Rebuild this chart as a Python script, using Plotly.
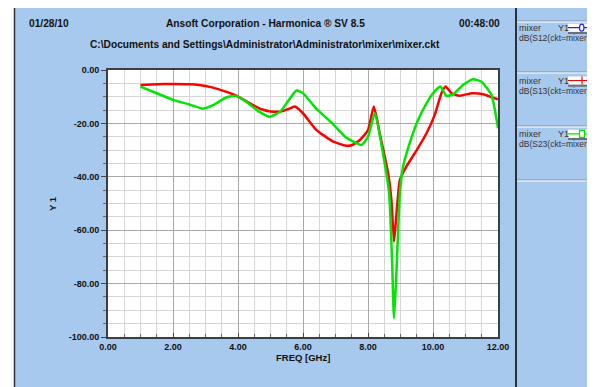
import plotly.graph_objects as go

# ---------------- data ----------------
freq_s13 = [1.0, 1.5, 2.0, 2.5, 2.8, 3.2, 3.6, 3.95, 4.35, 4.75, 5.0, 5.3, 5.55, 5.75, 6.0,
            6.4, 6.9, 7.3, 7.5, 7.75, 8.0, 8.18, 8.36, 8.62, 8.72, 8.80, 8.87, 8.98, 9.18,
            9.5, 9.8, 10.05, 10.26, 10.39, 10.57, 10.82, 11.2, 11.55, 11.8, 12.0]
db_s13 = [-5.6, -5.3, -5.2, -5.3, -5.6, -6.5, -8.0, -9.6, -12.4, -14.8, -15.5, -15.6, -14.6,
          -13.7, -16.2, -22.3, -26.6, -28.3, -28.2, -26.2, -22.5, -13.7, -23.7, -38.7, -48.7,
          -64.3, -54.9, -41.2, -36.2, -30.0, -23.7, -16.9, -8.7, -6.2, -8.7, -9.6, -8.7,
          -9.1, -10.2, -11.0]

freq_s23 = [1.0, 1.5, 2.0, 2.5, 2.92, 3.25, 3.65, 3.95, 4.25, 4.65, 4.98, 5.3, 5.55, 5.8,
            6.0, 6.4, 6.9, 7.3, 7.5, 7.8, 8.0, 8.21, 8.46, 8.65, 8.74, 8.80, 8.87, 8.98,
            9.08, 9.28, 9.54, 9.8, 10.0, 10.23, 10.41, 10.62, 10.92, 11.23, 11.49, 11.8, 12.0]
db_s23 = [-6.2, -8.7, -11.2, -12.9, -14.5, -13.1, -10.2, -9.7, -11.9, -15.6, -17.5, -15.6,
          -11.5, -7.7, -8.7, -14.4, -20.0, -25.0, -26.5, -28.1, -25.0, -16.2, -31.2, -46.2,
          -71.2, -93.0, -77.4, -46.2, -36.2, -27.5, -18.7, -12.5, -8.7, -6.2, -9.7, -9.1,
          -5.6, -3.5, -4.4, -9.4, -21.8]

x_tickvals = [0, 2, 4, 6, 8, 10, 12]
x_ticktext = ["0.00", "2.00", "4.00", "6.00", "8.00", "10.00", "12.00"]
y_tickvals = [0, -20, -40, -60, -80, -100]
y_ticktext = ["0.00", "-20.00", "-40.00", "-60.00", "-80.00", "-100.00"]

legend_names = ["dB(S12(ckt=mixer))", "dB(S13(ckt=mixer))", "dB(S23(ckt=mixer))"]
legend_colors = ["#2222ff", "#ff0000", "#00e600"]

BLUE = "#A8C9EE"
FONT = "Liberation Sans, Arial, sans-serif"

OFF = 8  # page body margin
W, H = 595, 387
# plot area in screenshot pixels
SL, SR, ST, SB = 108, 498, 70, 337
L, R, T, B = SL - OFF, SR - OFF, ST - OFF, SB - OFF


def px(x):
    return (x - OFF - L) / (R - L)


def py(y):
    return (B - (y - OFF)) / (B - T)


fig = go.Figure()
fig.add_trace(go.Scatter(x=freq_s13, y=db_s13, mode="lines",
                         line=dict(color="#ff0000", width=2.5, shape="spline", smoothing=0.5),
                         name="S13"))
fig.add_trace(go.Scatter(x=freq_s23, y=db_s23, mode="lines",
                         line=dict(color="#00e600", width=2.5, shape="spline", smoothing=0.5),
                         name="S23"))

shapes = []
# white strip left of frame
shapes.append(dict(type="rect", xref="paper", yref="paper", x0=px(0), x1=px(14), y0=py(H + 20), y1=py(0),
                   fillcolor="white", line=dict(width=0), layer="above"))
# left dark frame line
shapes.append(dict(type="line", xref="paper", yref="paper", x0=px(14.5), x1=px(14.5), y0=py(8), y1=py(H + 20),
                   line=dict(color="#2a3138", width=1.5), layer="above"))
# divider between chart and legend panel
shapes.append(dict(type="line", xref="paper", yref="paper", x0=px(516), x1=px(516), y0=py(8), y1=py(H + 20),
                   line=dict(color="#2a3138", width=2), layer="above"))
# legend separators
for ys in [22, 73, 127, 181]:
    shapes.append(dict(type="line", xref="paper", yref="paper", x0=px(517), x1=px(W + 20), y0=py(ys - 1), y1=py(ys - 1),
                       line=dict(color="#7f93ab", width=1), layer="above"))
    shapes.append(dict(type="line", xref="paper", yref="paper", x0=px(517), x1=px(W + 20), y0=py(ys), y1=py(ys),
                       line=dict(color="white", width=1), layer="above"))

annotations = []
# titles
title_font = dict(family=FONT, size=10.2, color="#111111")
annotations.append(dict(text="<b>01/28/10</b>", x=px(49), y=py(23), font=title_font))
annotations.append(dict(text="<b>Ansoft Corporation - Harmonica \u00ae SV 8.5</b>", x=px(265), y=py(23), font=title_font))
annotations.append(dict(text="<b>00:48:00</b>", x=px(479), y=py(23), font=title_font))
annotations.append(dict(text="<b>C:\\Documents and Settings\\Administrator\\Administrator\\mixer\\mixer.ckt</b>",
                        x=px(265), y=py(44), font=title_font))
axis_font = dict(family=FONT, size=9.5, color="#111111")
annotations.append(dict(text="<b>FREQ [GHz]</b>", x=px(303), y=py(357), font=axis_font))
annotations.append(dict(text="<b>Y 1</b>", x=px(52), y=py(204), textangle=-90, font=axis_font))
for a in annotations:
    a.update(xref="paper", yref="paper", showarrow=False, xanchor="center", yanchor="middle")

line_ys = [27.7, 80.5, 133.8]
for i, (name, col) in enumerate(zip(legend_names, legend_colors)):
    yl = line_ys[i]
    for txt, xx, yy, fs in [("mixer", 517, yl, 9), ("Y1", 556, yl, 9), (name, 516.5, yl + 10.5, 8.5)]:
        annotations.append(dict(text=txt, x=px(xx), y=py(yy), xref="paper", yref="paper", showarrow=False,
                                xanchor="left", yanchor="middle",
                                font=dict(family=FONT, size=fs, color="#333333")))
    # white sample strip
    shapes.append(dict(type="rect", xref="paper", yref="paper", x0=px(568), x1=px(W + 20), y0=py(yl + 4), y1=py(yl - 4),
                       fillcolor="white", line=dict(width=0), layer="above"))
    # grey underline
    shapes.append(dict(type="line", xref="paper", yref="paper", x0=px(568), x1=px(W + 20), y0=py(yl + 5.2), y1=py(yl + 5.2),
                       line=dict(color="#707070", width=2), layer="above"))
    # sample line
    shapes.append(dict(type="line", xref="paper", yref="paper", x0=px(568), x1=px(W + 20), y0=py(yl), y1=py(yl),
                       line=dict(color=col, width=1.2), layer="above"))
    if i == 0:
        shapes.append(dict(type="circle", xref="paper", yref="paper", x0=px(579.5), x1=px(584), y0=py(yl + 3.5), y1=py(yl - 3.5),
                           fillcolor="white", line=dict(color=col, width=1.2), layer="above"))
    elif i == 1:
        shapes.append(dict(type="line", xref="paper", yref="paper", x0=px(582), x1=px(582), y0=py(yl + 4), y1=py(yl - 4),
                           line=dict(color=col, width=1.2), layer="above"))
    else:
        shapes.append(dict(type="rect", xref="paper", yref="paper", x0=px(579.5), x1=px(584.5), y0=py(yl + 3.5), y1=py(yl - 3.5),
                           fillcolor="white", line=dict(color=col, width=1.2), layer="above"))

tickfont = dict(family=FONT, size=9, color="#111111", weight="bold")

fig.update_layout(
    width=W, height=H,
    margin=dict(l=L, r=W - R, t=T, b=H - B, pad=0),
    paper_bgcolor=BLUE, plot_bgcolor="white",
    showlegend=False,
    shapes=shapes, annotations=annotations,
    xaxis=dict(range=[0, 12], tickmode="array", tickvals=x_tickvals, ticktext=x_ticktext,
               ticks="inside", ticklen=4, tickcolor="#444", tickfont=tickfont,
               showline=True, linecolor="#3a3f45", linewidth=2, mirror=True,
               showgrid=True, gridcolor="#a8a8a8", gridwidth=1, zeroline=False,
               minor=dict(dtick=0.5, tick0=0, showgrid=True, gridcolor="#d6d6d6",
                          ticks="inside", ticklen=3, tickcolor="#666")),
    yaxis=dict(range=[-100, 0], tickmode="array", tickvals=y_tickvals, ticktext=y_ticktext,
               ticks="outside", ticklen=5, tickcolor="#444", tickfont=tickfont,
               showline=True, linecolor="#3a3f45", linewidth=2, mirror=True,
               showgrid=True, gridcolor="#a8a8a8", gridwidth=1, zeroline=False,
               minor=dict(dtick=5, tick0=0, showgrid=True, gridcolor="#d6d6d6",
                          ticks="outside", ticklen=3, tickcolor="#666")),
)

fig.write_html("out.html")
